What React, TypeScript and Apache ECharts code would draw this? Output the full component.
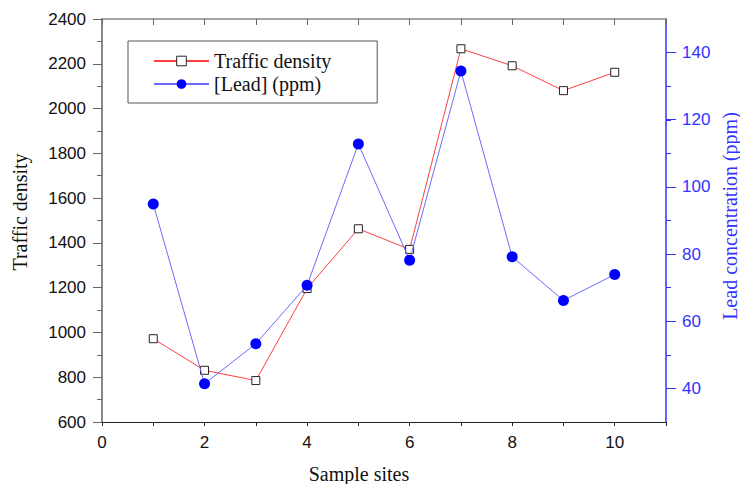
import React, { useEffect, useRef } from "react";
import * as echarts from "echarts";

const sites = [1, 2, 3, 4, 5, 6, 7, 8, 9, 10];
const trafficDensity = [972, 831, 785, 1196, 1463, 1371, 2267, 2191, 2080, 2162];
const leadPpm = [94.9, 41.4, 53.3, 70.7, 112.8, 78.2, 134.5, 79.2, 66.2, 73.9];

const serif = "'Liberation Serif', 'Times New Roman', serif";
const sans = "'Liberation Sans', Arial, sans-serif";
const BLUE = "#3333ff";
const W = 740;
const H = 484;
const TOP = 19;
const BOTTOM = 62;
const LEFT = 102;
const RIGHT = 74;
const LEAD_MIN = 30;
const LEAD_MAX = 150;
const LEAD_MAJOR_MIN = 40;
const LEAD_MAJOR_MAX = 140;

export default function App() {
  const ref = useRef<HTMLDivElement>(null);
  useEffect(() => {
    if (!ref.current) return;
    const chart = echarts.init(ref.current, null, { renderer: "svg" });
    const trafficData = sites.map((s, i) => [s, trafficDensity[i]]);
    const leadData = sites.map((s, i) => [s, leadPpm[i]]);
    const pxPerUnit = (H - TOP - BOTTOM) / (LEAD_MAX - LEAD_MIN);
    chart.setOption({
      animation: false,
      backgroundColor: "#fff",
      grid: [
        { left: LEFT, right: RIGHT, top: TOP, bottom: BOTTOM, containLabel: false },
        {
          left: LEFT,
          right: RIGHT,
          top: TOP + (LEAD_MAX - LEAD_MAJOR_MAX) * pxPerUnit,
          bottom: BOTTOM + (LEAD_MAJOR_MIN - LEAD_MIN) * pxPerUnit,
          containLabel: false,
        },
      ],
      legend: {
        left: 128,
        top: 41,
        orient: "vertical",
        borderColor: "#555",
        borderWidth: 1,
        padding: [10, 46, 9, 25],
        itemGap: 3,
        itemWidth: 55,
        itemHeight: 12,
        textStyle: { fontFamily: serif, fontSize: 20, color: "#111" },
        data: [
          { name: "Traffic density", itemStyle: { borderWidth: 1, borderColor: "#222", color: "#fff" } },
          { name: "[Lead] (ppm)" },
        ],
      },
      xAxis: [
        {
          type: "value",
          gridIndex: 0,
          position: "bottom",
          min: 0,
          max: 11,
          interval: 1,
          axisLine: { onZero: false, lineStyle: { color: "#222", width: 1 } },
          axisTick: { show: true, length: 4, lineStyle: { color: "#222" } },
          axisLabel: {
            margin: 12,
            fontFamily: sans,
            fontSize: 17,
            color: "#111",
            formatter: (v: number) => (v % 2 === 0 && v <= 10 ? String(v) : ""),
          },
          splitLine: { show: false },
        },
        {
          type: "value",
          gridIndex: 0,
          position: "top",
          min: 0,
          max: 11,
          interval: 1,
          axisLine: { show: true, onZero: false, lineStyle: { color: "#888", width: 1.5 } },
          axisTick: { show: true, inside: true, length: 6, lineStyle: { color: "#666" } },
          axisLabel: { show: false },
          splitLine: { show: false },
        },
        {
          type: "value",
          gridIndex: 1,
          min: 0,
          max: 11,
          show: false,
          axisLine: { onZero: false },
        },
      ],
      yAxis: [
        {
          type: "value",
          gridIndex: 0,
          position: "left",
          min: 600,
          max: 2400,
          interval: 200,
          axisLine: { show: true, onZero: false, lineStyle: { color: "#888", width: 2 } },
          axisTick: { show: true, length: 9, lineStyle: { color: "#666" } },
          minorTick: { show: true, splitNumber: 2, length: 5, lineStyle: { color: "#666" } },
          axisLabel: {
            margin: 16,
            fontFamily: sans,
            fontSize: 17,
            color: "#111",
            formatter: (v: number) => String(v),
          },
          splitLine: { show: false },
        },
        {
          type: "value",
          gridIndex: 0,
          position: "right",
          min: LEAD_MIN,
          max: LEAD_MAX,
          interval: 10,
          axisLine: { show: true, onZero: false, lineStyle: { color: BLUE, width: 1.5 } },
          axisTick: { show: true, length: 5, lineStyle: { color: BLUE } },
          axisLabel: {
            margin: 16,
            fontFamily: sans,
            fontSize: 17,
            color: BLUE,
            showMinLabel: false,
            showMaxLabel: false,
            formatter: (v: number) => (v % 20 === 0 ? String(v) : ""),
          },
          splitLine: { show: false },
        },
        {
          // longer major ticks of the lead axis
          type: "value",
          gridIndex: 1,
          position: "right",
          min: LEAD_MAJOR_MIN,
          max: LEAD_MAJOR_MAX,
          interval: 20,
          axisLine: { show: false, onZero: false },
          axisTick: { show: true, length: 10, lineStyle: { color: BLUE } },
          axisLabel: { show: false },
          splitLine: { show: false },
        },
      ],
      series: [
        {
          name: "Traffic density",
          type: "line",
          xAxisIndex: 0,
          yAxisIndex: 0,
          data: trafficData,
          symbol: "rect",
          symbolSize: 8,
          lineStyle: { color: "#ff4040", width: 1 },
          itemStyle: { color: "#fff", borderColor: "#222", borderWidth: 1 },
          z: 2,
        },
        {
          name: "[Lead] (ppm)",
          type: "line",
          xAxisIndex: 0,
          yAxisIndex: 1,
          data: leadData,
          symbol: "circle",
          symbolSize: 11,
          lineStyle: { color: "#6b6bff", width: 1 },
          itemStyle: { color: "#0000ff" },
          z: 3,
        },
      ],
      graphic: [
        {
          type: "text",
          x: 20,
          y: 212,
          rotation: Math.PI / 2,
          style: {
            text: "Traffic density",
            font: `20px ${serif}`,
            fill: "#111",
            align: "center",
            verticalAlign: "middle",
            textAlign: "center",
            textVerticalAlign: "middle",
          },
        },
        {
          type: "text",
          x: 359,
          y: 474,
          style: {
            text: "Sample sites",
            font: `20px ${serif}`,
            fill: "#111",
            align: "center",
            verticalAlign: "middle",
            textAlign: "center",
            textVerticalAlign: "middle",
          },
        },
        {
          type: "text",
          x: 730,
          y: 216,
          rotation: Math.PI / 2,
          style: {
            text: "Lead concentration (ppm)",
            font: `20px ${serif}`,
            fill: BLUE,
            align: "center",
            verticalAlign: "middle",
            textAlign: "center",
            textVerticalAlign: "middle",
          },
        },
      ],
    });
    return () => chart.dispose();
  }, []);
  return (
    <div
      ref={ref}
      style={{ position: "fixed", left: 0, top: 0, width: W, height: H, background: "#fff" }}
    />
  );
}
